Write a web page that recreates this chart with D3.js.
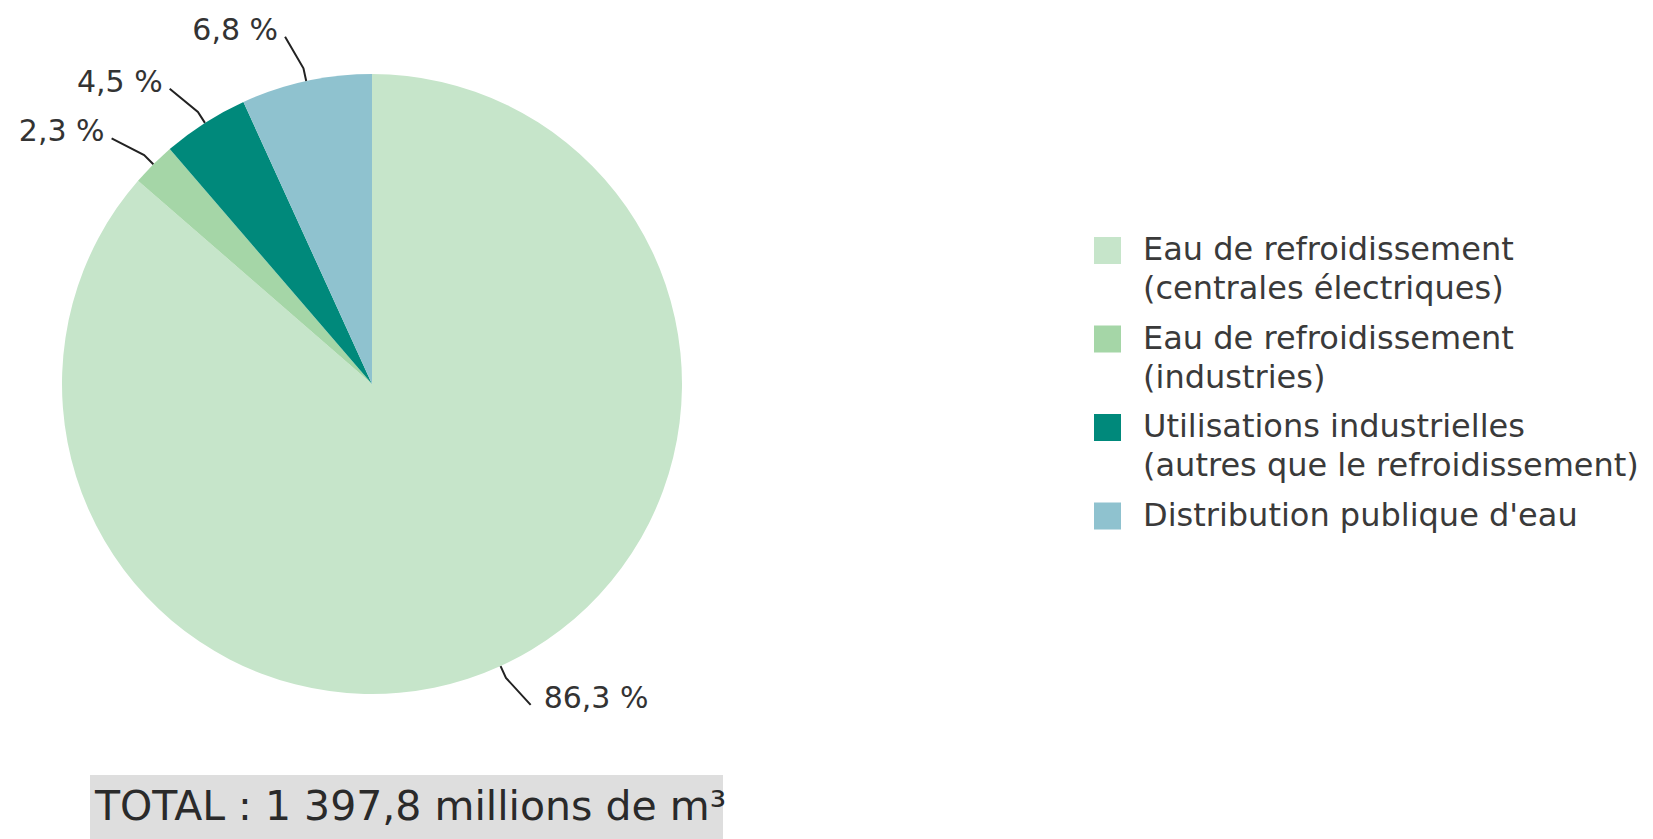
<!DOCTYPE html>
<html>
<head>
<meta charset="utf-8">
<script src="https://cdn.jsdelivr.net/npm/d3@7"></script>
<style>
  html, body { margin: 0; padding: 0; background: #ffffff; }
  svg { display: block; font-family: "DejaVu Sans", sans-serif; }
</style>
</head>
<body>
<svg id="chart" width="1653" height="839"></svg>
<script>
// ---- Data (legend order, clockwise from 12 o'clock) ----
const categories = [
  ["Eau de refroidissement", "(centrales électriques)"],
  ["Eau de refroidissement", "(industries)"],
  ["Utilisations industrielles", "(autres que le refroidissement)"],
  ["Distribution publique d'eau"]
];
const values = [86.3, 2.3, 4.5, 6.8];
const valueLabels = ["86,3 %", "2,3 %", "4,5 %", "6,8 %"];
const colors = ["#c6e5ca", "#a5d6a7", "#00897b", "#8fc2cf"];
const totalLabel = "TOTAL : 1 397,8 millions de m³";

// ---- Layout ----
const svg = d3.select("#chart");
const cx = 372, cy = 384, R = 310;

const pie = d3.pie().sort(null).value(d => d);
const arcs = pie(values);
const arc = d3.arc().innerRadius(0).outerRadius(R);

const g = svg.append("g").attr("transform", `translate(${cx},${cy})`);

g.selectAll("path.slice")
  .data(arcs)
  .enter().append("path")
  .attr("class", "slice")
  .attr("d", arc)
  .attr("fill", (d, i) => colors[i]);

// ---- Leader lines & labels ----
const polar = (r, a) => [r * Math.sin(a), -r * Math.cos(a)];
const deg = Math.PI / 180;

arcs.forEach((d, i) => {
  const mid = (d.startAngle + d.endAngle) / 2;
  const p0 = polar(R, mid);
  const p1 = polar(R + 13, mid);
  const p2 = polar(R + 48, mid - 1.8 * deg);
  g.append("path")
    .attr("d", d3.line()([p0, p1, p2]))
    .attr("fill", "none")
    .attr("stroke", "#222")
    .attr("stroke-width", 2);
  const right = p2[0] > 0;
  g.append("text")
    .attr("x", right ? p2[0] + 13 : p2[0] - 7)
    .attr("y", p2[1] + 3)
    .attr("text-anchor", right ? "start" : "end")
    .attr("font-size", 30)
    .attr("fill", "#333")
    .text(valueLabels[i]);
});

// ---- Legend ----
const legend = svg.append("g").attr("transform", "translate(1094,260)");
const itemStep = 88.5, lineStep = 39;
categories.forEach((lines, i) => {
  const item = legend.append("g").attr("transform", `translate(0,${i * itemStep})`);
  item.append("rect")
    .attr("x", 0).attr("y", -23)
    .attr("width", 27).attr("height", 27)
    .attr("fill", colors[i]);
  const t = item.append("text")
    .attr("x", 49).attr("y", 0)
    .attr("font-size", 32)
    .attr("fill", "#3a3a3a");
  lines.forEach((ln, j) => {
    t.append("tspan").attr("x", 49).attr("y", j * lineStep).text(ln);
  });
});

// ---- Total box ----
svg.append("rect")
  .attr("x", 90).attr("y", 775)
  .attr("width", 633).attr("height", 64)
  .attr("fill", "#dedede");
svg.append("text")
  .attr("x", 95).attr("y", 820)
  .attr("font-size", 41)
  .attr("fill", "#2a2a2a")
  .text(totalLabel);
</script>
</body>
</html>
